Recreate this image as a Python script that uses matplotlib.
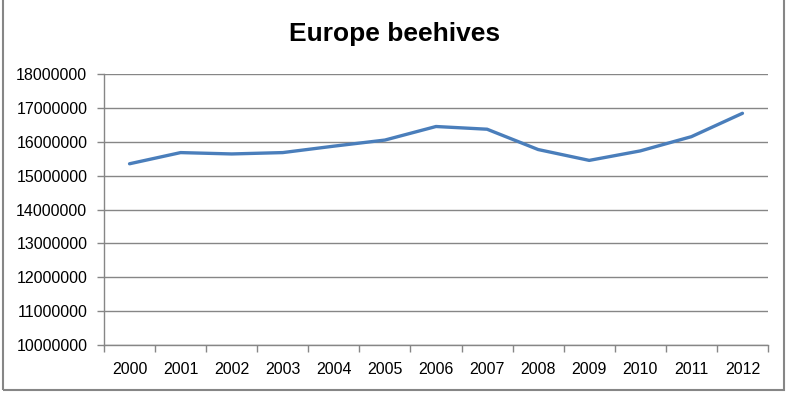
import matplotlib
matplotlib.use('Agg')
import matplotlib.pyplot as plt
from matplotlib.patches import Rectangle
from matplotlib.ticker import MultipleLocator, NullFormatter

# 数据
years = ['2000', '2001', '2002', '2003', '2004', '2005', '2006',
         '2007', '2008', '2009', '2010', '2011', '2012']
beehives = [15350000, 15680000, 15640000, 15680000, 15870000, 16050000, 16450000,
            16370000, 15770000, 15450000, 15730000, 16150000, 16840000]

plt.rcParams['font.family'] = ['Liberation Sans', 'DejaVu Sans']

fig = plt.figure(figsize=(7.9, 3.93), dpi=100)
ax = fig.add_axes([104 / 790, 1 - 345 / 393, (768 - 104) / 790, (345 - 74) / 393])

x = list(range(len(years)))
ax.plot(x, beehives, color='#4A7EBB', linewidth=2.4, solid_capstyle='round')

ax.set_xlim(-0.5, len(years) - 0.5)
ax.set_ylim(10000000, 18000000)
ax.yaxis.set_major_locator(MultipleLocator(1000000))
ax.set_xticks(x)
ax.set_xticklabels(years)
ax.xaxis.set_minor_locator(MultipleLocator(1, offset=0.5))
ax.xaxis.set_minor_formatter(NullFormatter())
ax.tick_params(axis='x', which='major', length=0, pad=12, labelsize=11.5, colors='black')
ax.tick_params(axis='x', which='minor', length=5, width=1, color='#868686', direction='out')
ax.tick_params(axis='y', which='major', length=5, width=1, color='#868686', direction='out',
               labelsize=11.5, pad=7)
ax.yaxis.get_major_formatter().set_scientific(False)
ax.yaxis.get_major_formatter().set_useOffset(False)

ax.grid(axis='y', color='#868686', linewidth=1)
ax.set_axisbelow(True)
for s in ['top', 'right']:
    ax.spines[s].set_visible(False)
for s in ['left', 'bottom']:
    ax.spines[s].set_color('#868686')
    ax.spines[s].set_linewidth(1)

fig.text(0.5, 1 - 34 / 393, 'Europe beehives', ha='center', va='center',
         fontsize=19, fontweight='bold')

# 外边框
fig.patches.append(Rectangle((3 / 790, 1 - 390 / 393), (784 - 3) / 790, 395 / 393,
                             transform=fig.transFigure, fill=False,
                             edgecolor='#868686', linewidth=1.5))

plt.savefig('out.png', dpi=100)
